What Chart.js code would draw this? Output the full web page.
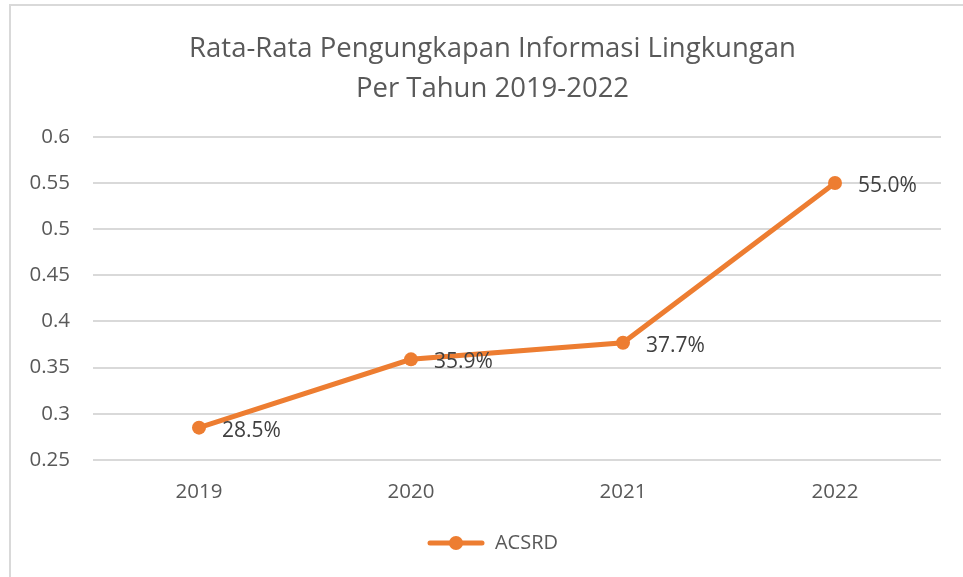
<!DOCTYPE html>
<html>
<head>
<meta charset="utf-8">
<script src="https://cdn.jsdelivr.net/npm/chart.js@4/dist/chart.umd.min.js"></script>
<style>
  html, body { margin: 0; padding: 0; background: #ffffff; overflow: hidden; }
  #frame { position: absolute; left: 9px; top: 4px; width: 1000px; height: 1000px; border: 2px solid #d9d9d9; box-sizing: border-box; }
  #wrap { position: absolute; left: 0; top: 0; width: 963px; height: 577px; }
</style>
</head>
<body>
<div id="frame"></div>
<div id="wrap"><canvas id="c" width="963" height="577"></canvas></div>
<script>
const categories = ["2019", "2020", "2021", "2022"];
const acsrdValues = [0.285, 0.359, 0.377, 0.550];
const dataLabels = ["28.5%", "35.9%", "37.7%", "55.0%"];
const titleLines = ["Rata-Rata Pengungkapan Informasi Lingkungan", "Per Tahun 2019-2022"];
const seriesName = "ACSRD";

const ORANGE = "#ED7D31";
const FONT = "'Open Sans', 'Noto Sans', sans-serif";

// legend marker: line with circle
const marker = document.createElement("canvas");
marker.width = 58; marker.height = 16;
(function () {
  const g = marker.getContext("2d");
  g.strokeStyle = ORANGE; g.lineWidth = 5; g.lineCap = "round";
  g.beginPath(); g.moveTo(3, 8); g.lineTo(55, 8); g.stroke();
  g.fillStyle = ORANGE; g.beginPath(); g.arc(29, 8, 7, 0, Math.PI * 2); g.fill();
})();

const labelPlugin = {
  id: "pointLabels",
  afterLayout(chart) {
    // centre title and legend over the framed area rather than the whole canvas
    if (chart.titleBlock) { chart.titleBlock.left = 44; chart.titleBlock.width = chart.titleBlock.right - 44; }
    if (chart.legend) { chart.legend.left = 44; chart.legend.width = chart.legend.right - 44; }
  },
  afterDatasetsDraw(chart) {
    const ctx = chart.ctx;
    const meta = chart.getDatasetMeta(0);
    ctx.save();
    ctx.font = "21px " + FONT;
    ctx.fillStyle = "#404040";
    ctx.textAlign = "left";
    ctx.textBaseline = "middle";
    meta.data.forEach((pt, i) => {
      ctx.fillText(dataLabels[i], pt.x + 23, pt.y + 3);
    });
    ctx.restore();
  }
};

new Chart(document.getElementById("c"), {
  type: "line",
  data: {
    labels: categories,
    datasets: [{
      label: seriesName,
      data: acsrdValues,
      borderColor: ORANGE,
      backgroundColor: ORANGE,
      borderWidth: 5,
      pointRadius: 7,
      pointBackgroundColor: ORANGE,
      pointBorderWidth: 0,
      pointStyle: "circle",
      tension: 0,
      fill: false
    }]
  },
  options: {
    responsive: false,
    animation: false,
    devicePixelRatio: 1,
    layout: { padding: { top: 0, right: 22, bottom: 14, left: 0 } },
    plugins: {
      title: {
        display: true,
        text: titleLines,
        color: "#595959",
        font: { family: FONT, size: 27.5, weight: "normal", lineHeight: 1.45 },
        padding: { top: 29, bottom: 28 }
      },
      legend: {
        display: true,
        position: "bottom",
        labels: {
          usePointStyle: true,
          pointStyle: marker,
          pointStyleWidth: 58,
          boxHeight: 16,
          color: "#595959",
          font: { family: FONT, size: 20 },
          padding: 10
        }
      },
      tooltip: { enabled: false }
    },
    scales: {
      x: {
        grid: { display: false, drawTicks: false },
        border: { display: false },
        offset: true,
        ticks: { color: "#595959", font: { family: FONT, size: 20.5 }, padding: 20 },
        afterFit(s) { s.height = 63; }
      },
      y: {
        min: 0.25,
        max: 0.6,
        grid: { color: "#d9d9d9", lineWidth: 2, drawTicks: false },
        border: { display: false },
        ticks: {
          stepSize: 0.05,
          color: "#595959",
          font: { family: FONT, size: 20.5 },
          padding: 23,
          callback: v => String(Math.round(v * 100) / 100)
        },
        afterFit(s) { s.width = 93; }
      }
    }
  },
  plugins: [labelPlugin]
});
</script>
</body>
</html>
